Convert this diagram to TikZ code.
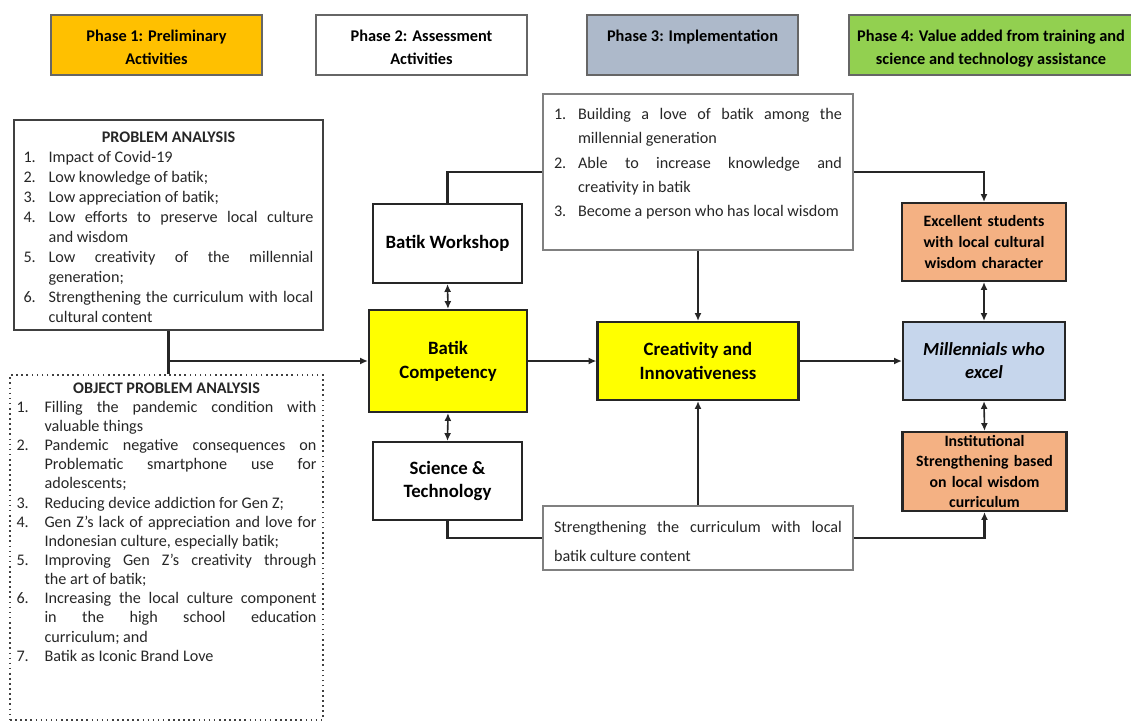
\documentclass[tikz,border=0pt]{standalone}
\usepackage{fontspec}
\setmainfont{Carlito}
\usetikzlibrary{positioning,arrows.meta}

\definecolor{phaseone}{HTML}{FFC000}
\definecolor{phasethree}{HTML}{ADB9CA}
\definecolor{phasefour}{HTML}{92D050}
\definecolor{boxorange}{HTML}{F4B183}
\definecolor{boxblue}{HTML}{C6D6EC}
\definecolor{boxyellow}{HTML}{FFFF00}

\newcommand{\numitem}[3]{\par\hangindent=#1\hangafter=1\noindent\makebox[#1][l]{#2}#3}
\newcommand{\phasetext}[2]{\parbox[c][1.2cm][t]{#1}{\centering\rule{0pt}{15.2pt}#2}}

\begin{document}
\begin{tikzpicture}[x=0.02cm, y=-0.02cm, >={Latex[length=4.5pt,width=4pt]},
  phasebox/.style={draw=black!60, line width=0.8pt, inner sep=0pt, minimum height=1.2cm, font=\fontsize{9.3}{13}\selectfont\bfseries},
  listbox/.style={draw=black!75, line width=0.9pt, inner sep=0pt, text=black!85},
  mainbox/.style={draw=black!85, line width=1.2pt, inner sep=0pt, align=center, font=\fontsize{10.7}{13.6}\selectfont\bfseries},
  valuebox/.style={draw=black!85, line width=1.2pt, inner sep=0pt, align=center, text width=3cm, minimum width=3.28cm, minimum height=1.56cm, fill=boxorange, font=\fontsize{9}{11.7}\selectfont\bfseries},
  flow/.style={line width=1.4pt, black!85},
  twoway/.style={<->, line width=0.9pt, black!85}]
\useasboundingbox (0,0) rectangle (1131,723);
\clip (0,0) rectangle (1131,723);

% Phase headers
\node (phase1) [phasebox, fill=phaseone, minimum width=4.22cm] at (156.5,45) {\phasetext{4cm}{Phase 1: Preliminary\\Activities}};
\node (phase2) [phasebox, fill=white, minimum width=4.22cm] at (421.5,45) {\phasetext{4cm}{Phase 2: Assessment\\Activities}};
\node (phase3) [phasebox, fill=phasethree, minimum width=4.22cm] at (692.5,45) {\phasetext{4cm}{Phase 3: Implementation}};
\node (phase4) [phasebox, fill=phasefour, minimum width=5.68cm] at (991,45) {\phasetext{5.6cm}{Phase 4: Value added from training and\\science and technology assistance}};

% Analysis boxes
\node (problem) [listbox, minimum width=6.18cm, minimum height=4.2cm] at (168.5,225) {\parbox[c][3.73cm][t]{5.8cm}{\fontsize{9.2}{11.4}\selectfont\tolerance=9999
  \centerline{\bfseries PROBLEM ANALYSIS}
  \numitem{0.5cm}{1.}{Impact of Covid-19}
  \numitem{0.5cm}{2.}{Low knowledge of batik;}
  \numitem{0.5cm}{3.}{Low appreciation of batik;}
  \numitem{0.5cm}{4.}{Low efforts to preserve local culture\linebreak and wisdom}
  \numitem{0.5cm}{5.}{Low creativity of the millennial\linebreak generation;}
  \numitem{0.5cm}{6.}{Strengthening the curriculum with local\linebreak cultural content}}};
\node (object) [listbox, dotted, line width=1.3pt, minimum width=6.26cm, minimum height=6.9cm] at (166.5,547.5) {\parbox[c][6.6cm][t]{6cm}{\fontsize{9.2}{10.9}\selectfont\tolerance=9999
  \centerline{\bfseries OBJECT PROBLEM ANALYSIS}
  \numitem{0.56cm}{1.}{Filling the pandemic condition with\linebreak valuable things}
  \numitem{0.56cm}{2.}{Pandemic negative consequences on\linebreak Problematic smartphone use for\linebreak adolescents;}
  \numitem{0.56cm}{3.}{Reducing device addiction for Gen Z;}
  \numitem{0.56cm}{4.}{Gen Z's lack of appreciation and love for\linebreak Indonesian culture, especially batik;}
  \numitem{0.56cm}{5.}{Improving Gen Z's creativity through\linebreak the art of batik;}
  \numitem{0.56cm}{6.}{Increasing the local culture component\linebreak in the high school education\linebreak curriculum; and}
  \numitem{0.56cm}{7.}{Batik as Iconic Brand Love}}};

% Training and competency
\node (workshop) [mainbox, minimum width=2.98cm, minimum height=1.58cm] at (447.5,243.5) {Batik Workshop};
\node (competency) [mainbox, fill=boxyellow, minimum width=3.16cm, minimum height=2.04cm] at (448,361) {Batik\\Competency};
\node (scitech) [mainbox, minimum width=2.98cm, minimum height=1.56cm] at (447.5,481) {Science \&\\Technology};
\node (creativity) [mainbox, fill=boxyellow, minimum width=4.02cm, minimum height=1.56cm] at (698,361) {Creativity and\\Innovativeness};

% Outcome texts
\node (outcome) [listbox, draw=black!50, minimum width=6.2cm, minimum height=3.12cm] at (698,172) {\parbox[c][2.54cm][t]{5.76cm}{\fontsize{9.2}{13.8}\selectfont\tolerance=9999
  \numitem{0.48cm}{1.}{Building a love of batik among the\linebreak millennial generation}
  \numitem{0.48cm}{2.}{Able to increase knowledge and\linebreak creativity in batik}
  \numitem{0.48cm}{3.}{Become a person who has local wisdom}}};
\node (curriculum) [listbox, draw=black!50, minimum width=6.2cm, minimum height=1.28cm] at (698,538) {\parbox[c][0.66cm][t]{5.76cm}{\fontsize{9.2}{16.5}\selectfont\tolerance=9999
  Strengthening the curriculum with local\linebreak batik culture content}};

% Value added
\node (excellent) [valuebox] at (984,242) {Excellent students\\with local cultural\\wisdom character};
\node (millennials) [mainbox, fill=boxblue, minimum width=3.24cm, minimum height=1.56cm, font=\fontsize{10.5}{13}\selectfont\bfseries\itshape] at (984,361) {Millennials who\\excel};
\node (institution) [valuebox, minimum height=1.58cm] at (984.5,471.5) {Institutional\\Strengthening based\\on local wisdom\\curriculum};

% Main flow
\draw[flow] (problem.south) -- (problem.south |- object.north);
\draw[flow, ->] (problem.south |- competency.west) -- (competency.west);
\draw[flow, ->] (competency.east) -- (creativity.west);
\draw[flow, ->] (creativity.east) -- (millennials.west);
\draw[flow] (workshop.north) |- (outcome.west);
\draw[flow, ->] (outcome.east) -| (excellent.north);
\draw[flow, ->] (outcome.south) -- (creativity.north);
\draw[flow] (scitech.south) |- (curriculum.west);
\draw[flow, ->] (curriculum.east) -| (institution.south);
\draw[flow, ->] (curriculum.north) -- (creativity.south);

% Two-way links
\draw[twoway] (workshop.south) -- (competency.north);
\draw[twoway] (competency.south) -- (scitech.north);
\draw[twoway] (excellent.south) -- (millennials.north);
\draw[twoway] (millennials.south) -- (institution.north);
\end{tikzpicture}
\end{document}
